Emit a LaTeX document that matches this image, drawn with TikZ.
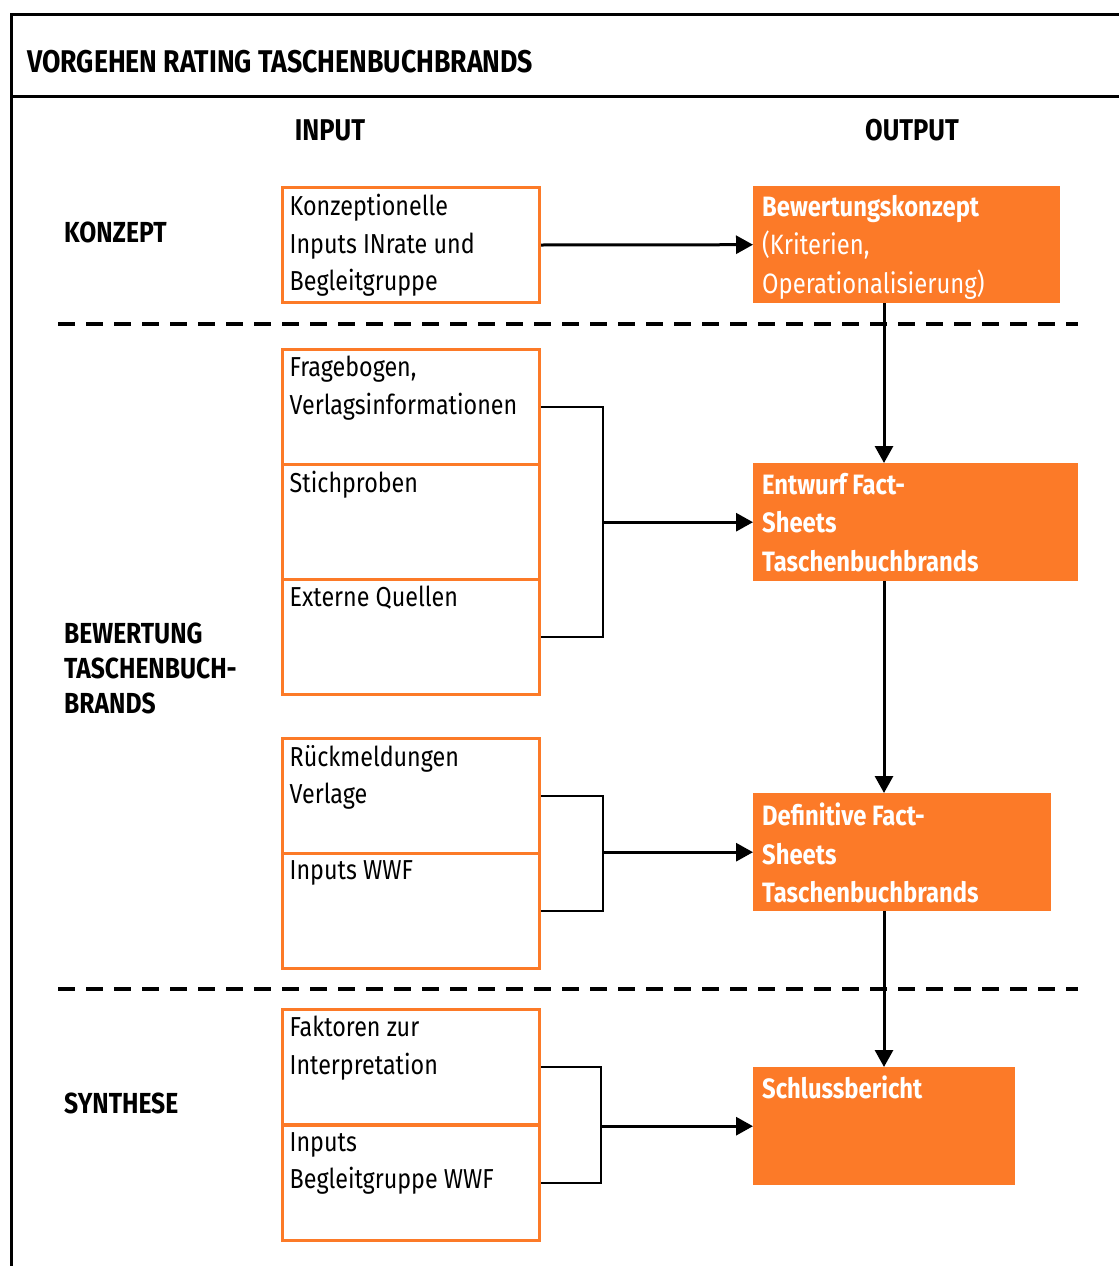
\documentclass[tikz,border=0pt]{standalone}
\usepackage{fontspec}
\setmainfont{Fira Sans}[FakeStretch=0.85]
\usetikzlibrary{arrows.meta}
\definecolor{wwforange}{RGB}{252,122,40}

\begin{document}
\begin{tikzpicture}[x=1pt,y=-1pt,
    inbox/.style={draw=wwforange,line width=3pt,minimum width=257pt,
        minimum height=115pt,anchor=north west,inner sep=0pt},
    outbox/.style={fill=wwforange,minimum height=118pt,anchor=north west,inner sep=0pt},
    boxtext/.style={anchor=north west,align=left,inner sep=0pt,
        font=\fontsize{27.4}{37.5}\selectfont},
    outtext/.style={boxtext,text=white,font=\fontsize{28}{38.5}\selectfont\bfseries},
    rowhead/.style={anchor=base west,align=left,font=\fontsize{29}{35}\selectfont\bfseries,inner sep=0pt},
    arr/.style={line width=3pt,-{Triangle[length=17pt,width=18pt]}},
    brk/.style={line width=2pt},
    sep/.style={line width=4.5pt,dash pattern=on 17pt off 11pt}
]
    \useasboundingbox (0,0) rectangle (1119,1266);
    \def\ax{884}
    % frame and title
    \draw[line width=3pt] (11.5,1266) -- (11.5,14.5) -- (1119,14.5);
    \draw[line width=3pt] (11.5,96) -- (1119,96);
    \node[anchor=base west,inner sep=0pt,font=\fontsize{31.4}{36}\selectfont\bfseries] (title) at (27,72)
        {VORGEHEN RATING TASCHENBUCHBRANDS};
    \node[anchor=base,inner sep=0pt,font=\fontsize{30}{30}\selectfont\bfseries] (inhead) at (330,140) {INPUT};
    \node[anchor=base,inner sep=0pt,font=\fontsize{30}{30}\selectfont\bfseries] (outhead) at (912,140) {OUTPUT};
    % row headings
    \node[rowhead] (konzept) at (64,242) {KONZEPT};
    \node[rowhead] (bewertung) at (64,713) {BEWERTUNG\\TASCHENBUCH-\\BRANDS};
    \node[rowhead] (synthese) at (64,1113) {SYNTHESE};
    % separators
    \draw[sep] (58,324) -- (1078,324);
    \draw[sep] (58,989) -- (1078,989);
    % input boxes
    \node[inbox] (i1) at (281,186) {};
    \node[inbox] (i2a) at (281,348) {};
    \node[inbox] (i2b) at (281,463) {};
    \node[inbox] (i2c) at (281,578) {};
    \node[inbox] (i3a) at (281,737) {};
    \node[inbox] (i3b) at (281,852) {};
    \node[inbox] (i4a) at (281,1008) {};
    \node[inbox] (i4b) at (281,1124) {};
    \node[boxtext] at ([shift={(8.5,8)}]i1.north west) {Konzeptionelle\\Inputs INrate und\\Begleitgruppe};
    \node[boxtext] at ([shift={(8.5,8)}]i2a.north west) {Fragebogen,\\Verlagsinformationen};
    \node[boxtext] at ([shift={(8.5,8)}]i2b.north west) {Stichproben};
    \node[boxtext] at ([shift={(8.5,8)}]i2c.north west) {Externe Quellen};
    \node[boxtext] at ([shift={(8.5,8)}]i3a.north west) {Rückmeldungen\\Verlage};
    \node[boxtext] at ([shift={(8.5,8)}]i3b.north west) {Inputs WWF};
    \node[boxtext] at ([shift={(8.5,8)}]i4a.north west) {Faktoren zur\\Interpretation};
    \node[boxtext] at ([shift={(8.5,8)}]i4b.north west) {Inputs\\Begleitgruppe WWF};
    % output boxes
    \node[outbox,minimum width=307pt,minimum height=117pt] (o1) at (753,186) {};
    \node[outbox,minimum width=325pt] (o2) at (753,463) {};
    \node[outbox,minimum width=298pt] (o3) at (753,793) {};
    \node[outbox,minimum width=262pt] (o4) at (753,1067) {};
    \node[outtext] at ([shift={(9,9)}]o1.north west)
        {Bewertungskonzept\\\mdseries(Kriterien,\\\mdseries Operationalisierung)};
    \node[outtext] at ([shift={(9,10)}]o2.north west) {Entwurf Fact-\\Sheets\\Taschenbuchbrands};
    \node[outtext] at ([shift={(9,10)}]o3.north west) {Definitive Fact-\\Sheets\\Taschenbuchbrands};
    \node[outtext] at ([shift={(9,9)}]o4.north west) {Schlussbericht};
    % connectors
    \coordinate (axis) at (\ax,0);
    \draw[arr] (i1.east) -- (o1.west);
    \draw[brk] (i2a.east) -- ++(62,0) coordinate (br2) |- (i2c.east);
    \draw[arr] (o2.west -| br2) -- (o2.west);
    \draw[brk] (i3a.east) -- ++(62,0) coordinate (br3) |- (i3b.east);
    \draw[arr] (o3.west -| br3) -- (o3.west);
    \draw[brk] (i4a.east) -- ++(60,0) coordinate (br4) |- (i4b.east);
    \draw[arr] (o4.west -| br4) -- (o4.west);
    \draw[arr] (o1.south -| axis) -- (o2.north -| axis);
    \draw[arr] (o2.south -| axis) -- (o3.north -| axis);
    \draw[arr] (o3.south -| axis) -- (o4.north -| axis);
\end{tikzpicture}
\end{document}
